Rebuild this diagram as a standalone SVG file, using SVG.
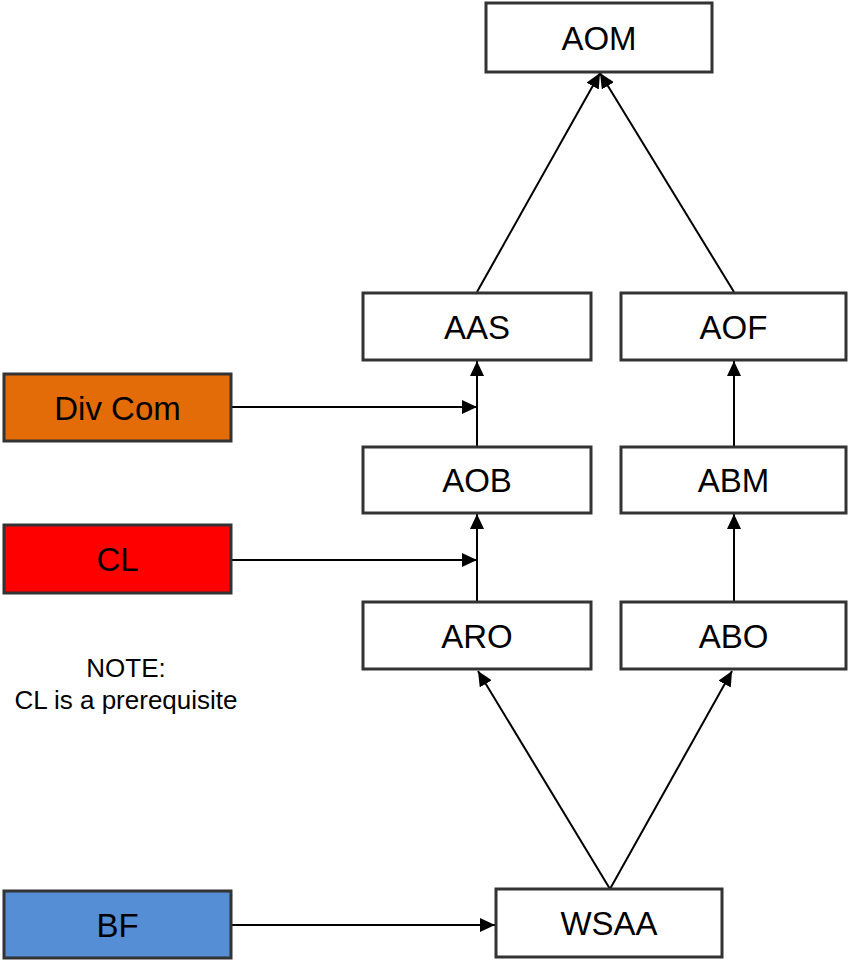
<svg xmlns="http://www.w3.org/2000/svg" width="848" height="960" viewBox="0 0 848 960">
<style>
.box{fill:#ffffff;stroke:#333333;stroke-width:3}
.lbl{font-family:"Liberation Sans",Arial,sans-serif;font-size:33px;fill:#000000;text-anchor:middle}
.note{font-family:"Liberation Sans",Arial,sans-serif;font-size:26px;fill:#000000;text-anchor:middle}
.conn{stroke:#000000;stroke-width:2;fill:none;marker-end:url(#arr)}
</style>
<defs>
<marker id="arr" markerUnits="userSpaceOnUse" markerWidth="16" markerHeight="14" refX="15" refY="7" orient="auto">
<path d="M0,0 L15,7 L0,14 Z" fill="#000000"/>
</marker>
</defs>
<rect width="848" height="960" fill="#ffffff"/>
<g id="connectors">
<line class="conn" x1="231" y1="407" x2="477" y2="407"/>
<line class="conn" x1="477" y1="447" x2="477" y2="361"/>
<line class="conn" x1="231" y1="560" x2="477" y2="560"/>
<line class="conn" x1="477" y1="602" x2="477" y2="514"/>
<line class="conn" x1="734" y1="602" x2="734" y2="514"/>
<line class="conn" x1="734" y1="447" x2="734" y2="361"/>
<line class="conn" x1="231" y1="925" x2="495" y2="925"/>
<line class="conn" x1="610" y1="889" x2="478" y2="671"/>
<line class="conn" x1="610" y1="889" x2="732" y2="671"/>
<line class="conn" x1="477" y1="292" x2="600" y2="73"/>
<line class="conn" x1="734" y1="292" x2="600" y2="73"/>
</g>
<g id="AOM"><rect class="box" x="486" y="3" width="226" height="69"/><text class="lbl" x="599" y="49.5">AOM</text></g>
<g id="AAS"><rect class="box" x="363" y="293" width="228" height="67"/><text class="lbl" x="477" y="338.5">AAS</text></g>
<g id="AOF"><rect class="box" x="621" y="293" width="225" height="67"/><text class="lbl" x="733.5" y="338.5">AOF</text></g>
<g id="AOB"><rect class="box" x="363" y="447" width="228" height="66"/><text class="lbl" x="477" y="492">AOB</text></g>
<g id="ABM"><rect class="box" x="621" y="447" width="225" height="66"/><text class="lbl" x="733.5" y="492">ABM</text></g>
<g id="ARO"><rect class="box" x="363" y="602" width="228" height="67"/><text class="lbl" x="477" y="647.5">ARO</text></g>
<g id="ABO"><rect class="box" x="621" y="602" width="225" height="67"/><text class="lbl" x="733.5" y="647.5">ABO</text></g>
<g id="WSAA"><rect class="box" x="496" y="889" width="226" height="68"/><text class="lbl" x="609" y="935">WSAA</text></g>
<g id="DivCom"><rect class="box" style="fill:#E36C09" x="4" y="374" width="227" height="67"/><text class="lbl" x="117.5" y="419.5">Div Com</text></g>
<g id="CL"><rect class="box" style="fill:#FF0000" x="4" y="525" width="227" height="68"/><text class="lbl" x="117.5" y="571">CL</text></g>
<g id="BF"><rect class="box" style="fill:#558ED5" x="4" y="891" width="227" height="67"/><text class="lbl" x="117.5" y="936.5">BF</text></g>
<g id="note"><text class="note" x="126" y="677">NOTE:</text><text class="note" x="126" y="709">CL is a prerequisite</text></g>
</svg>
